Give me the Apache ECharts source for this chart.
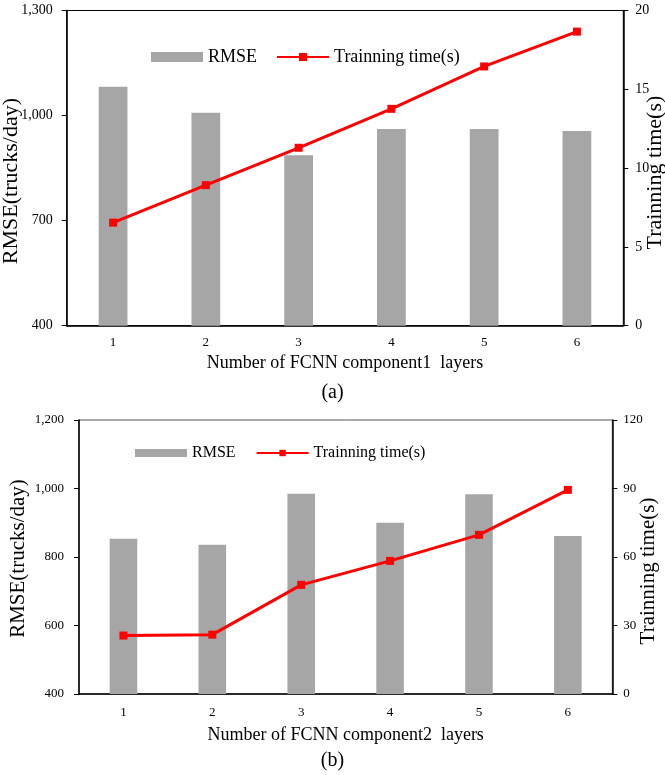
<!DOCTYPE html>
<html>
<head>
<meta charset="utf-8">
<script src="https://cdn.jsdelivr.net/npm/echarts@6/dist/echarts.min.js"></script>
<style>
    html,body{margin:0;padding:0;background:#fff;}
    #chart{width:665px;height:775px;}
</style>
</head>
<body>
<div id="chart"></div>
<script>
    var layers = ['1', '2', '3', '4', '5', '6'];
    // (a) component1
    var rmseA = [1082, 1008, 887, 962, 962, 956];
    var timeA = [6.54, 8.92, 11.29, 13.76, 16.45, 18.66];
    // (b) component2
    var rmseB = [853, 836, 985, 900, 983, 861];
    var timeB = [25.6, 26.0, 47.8, 58.3, 69.7, 89.4];

    var font = "'Liberation Serif', 'Times New Roman', serif";
    var barColor = '#A6A6A6';
    var lineColor = '#FF0000';

    function commas(v){
        return String(v).replace(/\B(?=(\d{3})+(?!\d))/g, ',');
    }

    function xAxisOf(idx, name, gap, margin){
        return {
            type: 'category',
            gridIndex: idx,
            data: layers,
            boundaryGap: true,
            name: name,
            nameLocation: 'middle',
            nameGap: gap,
            nameMoveOverlap: false,
            nameTextStyle: {fontFamily: font, fontSize: 18, color: '#000'},
            axisLine: {lineStyle: {color: '#000', width: 1.5}},
            axisTick: {length: 4, lineStyle: {color: '#000'}},
            axisLabel: {fontFamily: font, fontSize: 13, color: '#000', margin: margin},
            splitLine: {show: false}
        };
    }

    // pad shifts the rotated name downwards along the axis
    function yAxisOf(idx, pos, min, max, step, name, gap, fs, margin, pad){
        return {
            type: 'value',
            gridIndex: idx,
            position: pos,
            min: min,
            max: max,
            interval: step,
            name: name,
            nameLocation: 'middle',
            nameGap: gap,
            nameMoveOverlap: false,
            nameTextStyle: {fontFamily: font, fontSize: fs, color: '#000', padding: [0, pad, 0, 0]},
            axisLine: {show: true, lineStyle: {color: '#000', width: 1.5}},
            axisTick: {show: true, length: 5, lineStyle: {color: '#000'}},
            axisLabel: {fontFamily: font, fontSize: idx === 0 ? 14 : 13, color: '#000', margin: margin, formatter: commas},
            splitLine: {show: false}
        };
    }

    var chart = echarts.init(document.getElementById('chart'));

    var option = {
        animation: false,
        backgroundColor: '#fff',
        grid: [
            {left: 66.7, right: 41.7, top: 10.5, height: 315.2, outerBoundsMode: 'none', containLabel: false,
                show: true, borderColor: '#000', borderWidth: 1},
            {left: 79, right: 52.7, top: 420, height: 274, outerBoundsMode: 'none', containLabel: false,
                show: true, borderColor: '#555', borderWidth: 1}
        ],
        legend: [
            {
                left: 146, top: 43,
                itemWidth: 52, itemHeight: 10, itemGap: 19,
                textStyle: {fontFamily: font, fontSize: 18, color: '#000'},
                data: [{name: 'RMSE', icon: 'rect'}, {name: 'Trainning time(s)'}]
            },
            {
                left: 130, top: 440,
                itemWidth: 52, itemHeight: 8, itemGap: 20,
                textStyle: {fontFamily: font, fontSize: 16, color: '#000'},
                data: [{name: 'RMSE', icon: 'rect'}, {name: 'Trainning time(s)'}]
            }
        ],
        xAxis: [
            xAxisOf(0, 'Number of FCNN component1  layers', 29, 10),
            xAxisOf(1, 'Number of FCNN component2  layers', 32, 12)
        ],
        yAxis: [
            yAxisOf(0, 'left', 400, 1300, 300, 'RMSE(trucks/day)', 44, 22, 14, 26),
            yAxisOf(0, 'right', 0, 20, 5, 'Trainning time(s)', 21, 22, 12, 9),
            yAxisOf(1, 'left', 400, 1200, 200, 'RMSE(trucks/day)', 50, 21, 15, 3),
            yAxisOf(1, 'right', 0, 120, 30, 'Trainning time(s)', 26, 21, 11, 28)
        ],
        graphic: [
            {type: 'text', left: 'center', top: 383, style: {text: '(a)', font: '20px ' + font, fill: '#000'}},
            {type: 'text', left: 'center', top: 751, style: {text: '(b)', font: '20px ' + font, fill: '#000'}}
        ],
        series: [
            {
                name: 'RMSE', type: 'bar', xAxisIndex: 0, yAxisIndex: 0,
                barWidth: '31%', itemStyle: {color: barColor}, data: rmseA
            },
            {
                name: 'Trainning time(s)', type: 'line', xAxisIndex: 0, yAxisIndex: 1,
                symbol: 'rect', symbolSize: 8, showAllSymbol: true,
                lineStyle: {color: lineColor, width: 3},
                itemStyle: {color: lineColor},
                data: timeA
            },
            {
                name: 'RMSE', type: 'bar', xAxisIndex: 1, yAxisIndex: 2,
                barWidth: '31%', itemStyle: {color: barColor}, data: rmseB
            },
            {
                name: 'Trainning time(s)', type: 'line', xAxisIndex: 1, yAxisIndex: 3,
                symbol: 'rect', symbolSize: 8, showAllSymbol: true,
                lineStyle: {color: lineColor, width: 3},
                itemStyle: {color: lineColor},
                data: timeB
            }
        ]
    };

    chart.setOption(option);
</script>
</body>
</html>
